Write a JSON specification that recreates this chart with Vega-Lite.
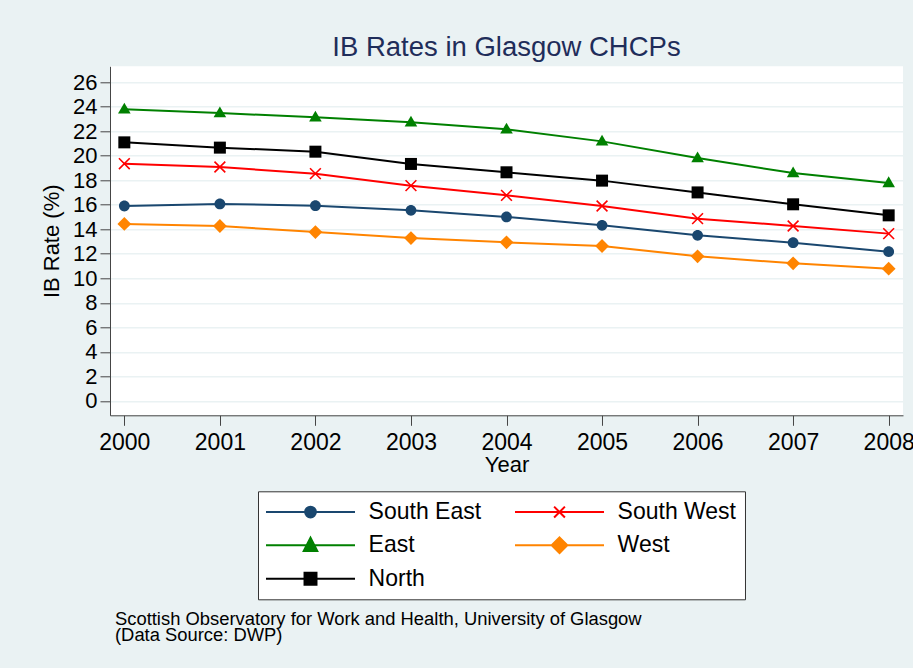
{
  "$schema": "https://vega.github.io/schema/vega-lite/v6.json",
  "background": "#EAF2F3",
  "padding": {"left": 40, "top": 34.3, "right": 0, "bottom": 24},
  "config": {
    "font": "Liberation Sans",
    "view": {"fill": "white", "stroke": null},
    "concat": {"spacing": 0}
  },
  "title": {
    "text": ["Scottish Observatory for Work and Health, University of Glasgow", "(Data Source: DWP)"],
    "orient": "bottom",
    "anchor": "start",
    "frame": "group",
    "font": "Liberation Sans",
    "fontSize": 18.4,
    "fontWeight": "normal",
    "color": "black",
    "lineHeight": 16,
    "offset": 10,
    "dx": 5
  },
  "vconcat": [
    {
      "width": 793,
      "height": 349,
      "title": {
        "text": "IB Rates in Glasgow CHCPs",
        "anchor": "middle",
        "font": "Liberation Sans",
        "fontSize": 27.5,
        "fontWeight": "normal",
        "color": "#1F2D5A",
        "offset": 4.4
      },
      "data": {
        "values": [
          {"Year": 2000, "Region": "South East", "Rate": 15.89},
          {"Year": 2001, "Region": "South East", "Rate": 16.06},
          {"Year": 2002, "Region": "South East", "Rate": 15.92},
          {"Year": 2003, "Region": "South East", "Rate": 15.54},
          {"Year": 2004, "Region": "South East", "Rate": 15.0},
          {"Year": 2005, "Region": "South East", "Rate": 14.32},
          {"Year": 2006, "Region": "South East", "Rate": 13.5},
          {"Year": 2007, "Region": "South East", "Rate": 12.9},
          {"Year": 2008, "Region": "South East", "Rate": 12.17},
          {"Year": 2000, "Region": "South West", "Rate": 19.34},
          {"Year": 2001, "Region": "South West", "Rate": 19.07},
          {"Year": 2002, "Region": "South West", "Rate": 18.53},
          {"Year": 2003, "Region": "South West", "Rate": 17.55},
          {"Year": 2004, "Region": "South West", "Rate": 16.76},
          {"Year": 2005, "Region": "South West", "Rate": 15.89},
          {"Year": 2006, "Region": "South West", "Rate": 14.86},
          {"Year": 2007, "Region": "South West", "Rate": 14.26},
          {"Year": 2008, "Region": "South West", "Rate": 13.64},
          {"Year": 2000, "Region": "East", "Rate": 23.77},
          {"Year": 2001, "Region": "East", "Rate": 23.47},
          {"Year": 2002, "Region": "East", "Rate": 23.12},
          {"Year": 2003, "Region": "East", "Rate": 22.71},
          {"Year": 2004, "Region": "East", "Rate": 22.14},
          {"Year": 2005, "Region": "East", "Rate": 21.16},
          {"Year": 2006, "Region": "East", "Rate": 19.8},
          {"Year": 2007, "Region": "East", "Rate": 18.58},
          {"Year": 2008, "Region": "East", "Rate": 17.77},
          {"Year": 2000, "Region": "West", "Rate": 14.43},
          {"Year": 2001, "Region": "West", "Rate": 14.26},
          {"Year": 2002, "Region": "West", "Rate": 13.77},
          {"Year": 2003, "Region": "West", "Rate": 13.28},
          {"Year": 2004, "Region": "West", "Rate": 12.93},
          {"Year": 2005, "Region": "West", "Rate": 12.63},
          {"Year": 2006, "Region": "West", "Rate": 11.79},
          {"Year": 2007, "Region": "West", "Rate": 11.22},
          {"Year": 2008, "Region": "West", "Rate": 10.78},
          {"Year": 2000, "Region": "North", "Rate": 21.08},
          {"Year": 2001, "Region": "North", "Rate": 20.65},
          {"Year": 2002, "Region": "North", "Rate": 20.32},
          {"Year": 2003, "Region": "North", "Rate": 19.32},
          {"Year": 2004, "Region": "North", "Rate": 18.64},
          {"Year": 2005, "Region": "North", "Rate": 17.96},
          {"Year": 2006, "Region": "North", "Rate": 17.0},
          {"Year": 2007, "Region": "North", "Rate": 16.03},
          {"Year": 2008, "Region": "North", "Rate": 15.13}
        ]
      },
      "encoding": {
        "x": {
          "field": "Year",
          "type": "quantitative",
          "scale": {"domain": [1999.85, 2008.15], "nice": false, "zero": false},
          "axis": {
            "title": "Year",
            "values": [2000, 2001, 2002, 2003, 2004, 2005, 2006, 2007, 2008],
            "format": "d",
            "grid": false,
            "labelFontSize": 23,
            "labelColor": "black",
            "labelPadding": 6,
            "labelFlush": false,
            "labelOverlap": false,
            "tickSize": 10,
            "tickColor": "#444",
            "tickWidth": 1,
            "domainColor": "#444",
            "domainWidth": 1,
            "titleFontSize": 22,
            "titleFontWeight": "normal",
            "titleColor": "black",
            "titlePadding": 0
          }
        },
        "y": {
          "field": "Rate",
          "type": "quantitative",
          "scale": {"domain": [-1.17, 27.28], "nice": false, "zero": false},
          "axis": {
            "title": "IB Rate (%)",
            "values": [0, 2, 4, 6, 8, 10, 12, 14, 16, 18, 20, 22, 24, 26],
            "grid": true,
            "gridColor": "#EAF2F3",
            "gridWidth": 1.5,
            "labelFontSize": 22,
            "labelColor": "black",
            "labelPadding": 3,
            "labelOverlap": false,
            "tickSize": 10,
            "tickColor": "#444",
            "tickWidth": 1,
            "domainColor": "#444",
            "domainWidth": 1,
            "titleFontSize": 22,
            "titleFontWeight": "normal",
            "titleColor": "black",
            "titlePadding": 9
          }
        },
        "color": {
          "field": "Region",
          "type": "nominal",
          "scale": {
            "domain": ["South East", "South West", "East", "West", "North"],
            "range": ["#1A476F", "#FF0000", "#008000", "#FF8400", "#000000"]
          },
          "legend": {
            "orient": "none",
            "legendX": 148,
            "legendY": 425,
            "columns": 2,
            "direction": "horizontal",
            "title": null,
            "labelFontSize": 23,
            "labelFont": "Liberation Sans",
            "labelColor": "black",
            "labelLimit": 300,
            "labelOffset": 77.6,
            "symbolSize": 529,
            "symbolStrokeWidth": 2,
            "columnPadding": 28,
            "rowPadding": 8.5,
            "padding": 8,
            "fillColor": "white",
            "strokeColor": "#333",
            "cornerRadius": 0,
            "encode": {
              "symbols": {
                "update": {
                  "shape": {"signal": "datum.value === 'South East' ? 'M-1.087,0H6.652M3.253,0A0.47,0.47,0,1,1,2.313,0A0.47,0.47,0,1,1,3.253,0Z' : datum.value === 'South West' ? 'M-1.087,0H6.652M2.313,-0.47L3.253,0.47M2.313,0.47L3.253,-0.47' : datum.value === 'East' ? 'M-1.087,0H6.652M2.783,-0.66L3.373,0.5L2.193,0.5Z' : datum.value === 'West' ? 'M-1.087,0H6.652M2.783,-0.68L3.463,0L2.783,0.68L2.103,0Z' : 'M-1.087,0H6.652M2.263,-0.52H3.303V0.52H2.263Z'"},
                  "fill": {"signal": "datum.value === 'South East' ? '#1A476F' : datum.value === 'South West' ? '#FF0000' : datum.value === 'East' ? '#008000' : datum.value === 'West' ? '#FF8400' : '#000000'"},
                  "stroke": {"signal": "datum.value === 'South East' ? '#1A476F' : datum.value === 'South West' ? '#FF0000' : datum.value === 'East' ? '#008000' : datum.value === 'West' ? '#FF8400' : '#000000'"},
                  "strokeWidth": {"value": 2},
                  "opacity": {"value": 1}
                }
              }
            }
          }
        }
      },
      "layer": [
        {
          "mark": {"type": "line", "strokeWidth": 2},
          "encoding": {}
        },
        {
          "transform": [{"filter": "datum.Region === 'South East'"}],
          "mark": {"type": "point", "filled": true, "opacity": 1, "size": 144, "shape": "M0.9,0A0.9,0.9,0,1,1,-0.9,0A0.9,0.9,0,1,1,0.9,0Z"},
          "encoding": {}
        },
        {
          "transform": [{"filter": "datum.Region === 'South West'"}],
          "mark": {"type": "point", "filled": false, "opacity": 1, "size": 144, "strokeWidth": 1.6, "shape": "M-0.9,-0.9L0.9,0.9M-0.9,0.9L0.9,-0.9"},
          "encoding": {}
        },
        {
          "transform": [{"filter": "datum.Region === 'East'"}],
          "mark": {"type": "point", "filled": true, "opacity": 1, "size": 144, "shape": "M0,-1.1L1.05,0.7L-1.05,0.7Z"},
          "encoding": {}
        },
        {
          "transform": [{"filter": "datum.Region === 'West'"}],
          "mark": {"type": "point", "filled": true, "opacity": 1, "size": 144, "shape": "M0,-1.15L1.15,0L0,1.15L-1.15,0Z"},
          "encoding": {}
        },
        {
          "transform": [{"filter": "datum.Region === 'North'"}],
          "mark": {"type": "point", "filled": true, "opacity": 1, "size": 144, "shape": "M-1,-1H1V1H-1Z"},
          "encoding": {}
        }
      ]
    }
  ]
}
